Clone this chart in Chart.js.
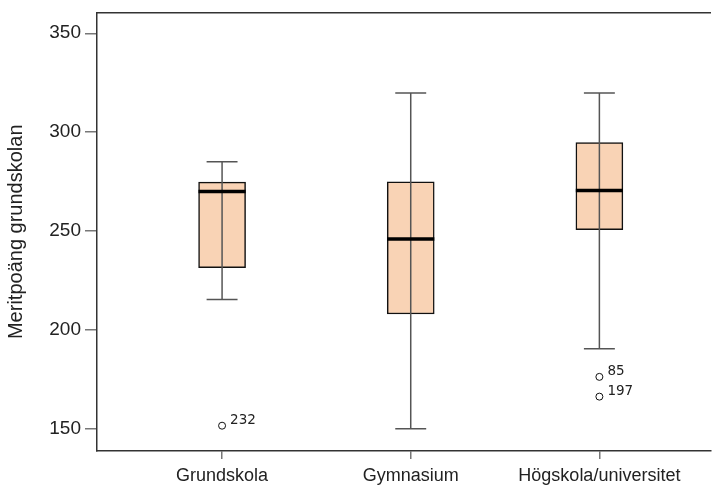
<!DOCTYPE html>
<html>
<head>
<meta charset="utf-8">
<script src="https://cdn.jsdelivr.net/npm/chart.js@4.4.1/dist/chart.umd.min.js"></script>
<style>
  html, body { margin: 0; padding: 0; background: #fff; }
  #wrap { width: 715px; height: 487px; }
</style>
</head>
<body>
<div id="wrap"><canvas id="boxChart"></canvas></div>
<script>
// box plot values
const categories = ['Grundskola', 'Gymnasium', 'Högskola/universitet'];
const q1 = [231.4, 208, 250.6];
const q3 = [274.7, 274.8, 294.7];
const medians = [270, 245.9, 270.5];
const whiskerLow = [215.3, 150, 190.4];
const whiskerHigh = [285, 319.8, 319.8];

const outlierCat = [0, 2, 2];
const outlierValues = [151.5, 176.2, 166.2];
const outlierIds = ['232', '85', '197'];

const yTicks = [150, 200, 250, 300, 350];

const boxFill = '#f9d3b5';
const lineGray = '#555';
const capHalf = 0.082;     // half width of whisker caps, in category units
const medianHalf = 0.125;  // half width of the median bar

const fontFam = '"Liberation Sans", Arial, sans-serif';

function hLine(i, y, half, color, width, order) {
    return {
        type: 'line',
        order: order,
        data: [{x: i - half, y: y}, {x: i + half, y: y}],
        borderColor: color,
        borderWidth: width,
        borderCapStyle: 'butt',
        pointRadius: 0,
        pointHoverRadius: 0,
        fill: false
    };
}

let datasets = [];

datasets.push({
    type: 'bar',
    order: 5,
    data: categories.map(function (c, i) { return {x: i, y: [q1[i], q3[i]]}; }),
    backgroundColor: boxFill,
    borderColor: '#111',
    borderWidth: 1.5,
    borderSkipped: false,
    barThickness: 47
});

categories.forEach(function (c, i) {
    // vertical whisker
    datasets.push({
        type: 'line',
        order: 3,
        data: [{x: i, y: whiskerLow[i]}, {x: i, y: whiskerHigh[i]}],
        borderColor: lineGray,
        borderWidth: 1.5,
        pointRadius: 0,
        pointHoverRadius: 0,
        fill: false
    });
    datasets.push(hLine(i, whiskerLow[i], capHalf, lineGray, 1.5, 2));
    datasets.push(hLine(i, whiskerHigh[i], capHalf, lineGray, 1.5, 2));
    datasets.push(hLine(i, medians[i], medianHalf, '#000', 3.5, 1));
});

datasets.push({
    type: 'scatter',
    order: 0,
    data: outlierValues.map(function (v, i) { return {x: outlierCat[i], y: v}; }),
    pointStyle: 'circle',
    pointRadius: 3.5,
    pointHoverRadius: 3.5,
    backgroundColor: '#fff',
    borderColor: '#111',
    borderWidth: 1
});

const outlierLabels = {
    id: 'outlierLabels',
    afterDatasetsDraw(chart) {
        const meta = chart.getDatasetMeta(chart.data.datasets.length - 1);
        const ctx = chart.ctx;
        ctx.save();
        ctx.font = '13.5px "DejaVu Sans"';
        ctx.fillStyle = '#222';
        ctx.textBaseline = 'middle';
        meta.data.forEach(function (pt, i) {
            ctx.fillText(outlierIds[i], pt.x + 8, pt.y - 5);
        });
        ctx.restore();
    }
};

const ctx = document.getElementById('boxChart').getContext('2d');
let boxChart = new Chart(ctx, {
    data: { datasets: datasets },
    options: {
        responsive: true,
        maintainAspectRatio: false,
        animation: false,
        layout: { padding: { top: 12.5, right: 0, left: 0, bottom: 0 } },
        plugins: {
            legend: { display: false },
            tooltip: { enabled: false }
        },
        scales: {
            x: {
                type: 'linear',
                offset: false,
                min: -0.663,
                max: 2.589,
                afterBuildTicks: function (scale) {
                    scale.ticks = categories.map(function (c, i) { return {value: i}; });
                },
                afterFit: function (scale) {
                    scale.height = 36;
                    scale.paddingLeft = 0;
                    scale.paddingRight = 0;
                },
                ticks: {
                    autoSkip: false,
                    maxRotation: 0,
                    padding: 6,
                    color: '#222',
                    font: { family: fontFam, size: 18 },
                    callback: function (v) { return categories[v]; }
                },
                grid: { display: true, offset: false, drawOnChartArea: false, drawTicks: true, tickLength: 8, color: '#777', lineWidth: 1.5 },
                border: { display: true, color: '#333', width: 1.5 }
            },
            xTop: {
                type: 'linear',
                position: 'top',
                min: -0.663,
                max: 2.589,
                afterFit: function (scale) {
                    scale.height = 0;
                    scale.paddingLeft = 0;
                    scale.paddingRight = 0;
                },
                ticks: { display: false },
                grid: { display: false, drawTicks: false },
                border: { display: true, color: '#333', width: 1.5 }
            },
            y: {
                type: 'linear',
                min: 138.7,
                max: 360.5,
                afterBuildTicks: function (scale) {
                    scale.ticks = yTicks.map(function (v) { return {value: v}; });
                },
                afterFit: function (scale) {
                    scale.width = 97;
                    scale.paddingTop = 0;
                    scale.paddingBottom = 0;
                },
                ticks: {
                    padding: 4,
                    color: '#222',
                    font: { family: fontFam, size: 19 }
                },
                grid: { display: true, drawOnChartArea: false, drawTicks: true, tickLength: 12, color: '#777', lineWidth: 1.5 },
                border: { display: true, color: '#333', width: 1.5 },
                title: {
                    display: true,
                    text: 'Meritpoäng grundskolan',
                    color: '#222',
                    padding: { top: 4, bottom: 4 },
                    font: { family: fontFam, size: 20 }
                }
            }
        }
    },
    plugins: [outlierLabels]
});
</script>
</body>
</html>
